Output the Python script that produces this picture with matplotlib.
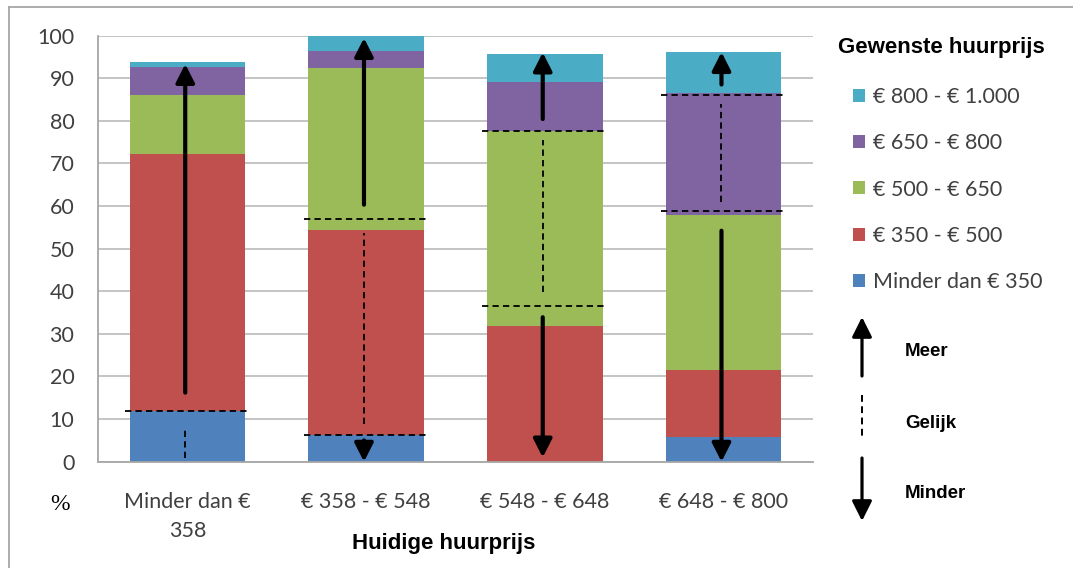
import numpy as np
import matplotlib
matplotlib.use("Agg")
import matplotlib.pyplot as plt
from matplotlib.lines import Line2D

# huidige huurprijs (x-as)
categories = ["Minder dan €\n358", "€ 358 - € 548", "€ 548 - € 648", "€ 648 - € 800"]

# gewenste huurprijs, percentages per klasse (onder naar boven)
series_labels = ["Minder dan € 350", "€ 350 - € 500", "€ 500 - € 650", "€ 650 - € 800", "€ 800 - € 1.000"]
minder_350 = [11.9, 6.2, 0.0, 5.9]
p350_500 = [60.3, 48.2, 31.9, 15.6]
p500_650 = [13.8, 37.9, 45.6, 36.4]
p650_800 = [6.6, 4.1, 11.5, 28.6]
p800_1000 = [1.2, 3.6, 6.7, 9.6]
series_colors = ["#4F81BD", "#C0504D", "#9BBB59", "#8064A2", "#4BACC6"]

# annotaties: gelijk-zone (stippellijnen) en pijlen meer / minder
gelijk_lo = [0.0, 6.2, 36.6, 58.8]
gelijk_hi = [11.9, 56.9, 77.7, 86.1]
dash_lo = [0.9, 8.8, 39.9, 60.9]
dash_hi = [8.1, 53.7, 75.5, 84.0]
meer_from = [16.2, 60.3, 80.4, 88.5]
meer_to = [93.3, 99.4, 96.0, 96.1]
minder_from = [None, 5.0, 33.9, 54.2]
minder_to = [None, 0.0, 1.0, 0.0]

W, H = 1073, 568
fig = plt.figure(figsize=(W / 100, H / 100), dpi=100)


def fx(x):
    return x / W


def fy(y):
    return 1 - y / H


ax = fig.add_axes([fx(98), fy(461.7), (813 - 98) / W, (461.7 - 35.5) / H])

x = np.arange(len(categories))
bar_w = 0.645
data = np.array([minder_350, p350_500, p500_650, p650_800, p800_1000])
bottom = np.zeros(len(categories))
handles = []
for vals, lab, col in zip(data, series_labels, series_colors):
    b = ax.bar(x, vals, bar_w, bottom=bottom, color=col, label=lab, zorder=2)
    handles.append(b)
    bottom += vals

ax.set_xlim(-0.5, 3.5)
ax.set_ylim(0, 100)
ax.set_yticks(range(0, 101, 10))
ax.yaxis.grid(True, color="#BFBFBF", lw=1.3, zorder=0)
ax.set_axisbelow(True)
for s in ["top", "right"]:
    ax.spines[s].set_visible(False)
for s in ["left", "bottom"]:
    ax.spines[s].set_color("#A6A6A6")
    ax.spines[s].set_linewidth(1.3)
ax.tick_params(axis="both", length=0, labelsize=15.5, labelcolor="#404040")
ax.tick_params(axis="y", pad=17)
ax.tick_params(axis="x", pad=22)
ax.set_xticks(x)
ax.set_xticklabels(categories, linespacing=1.55)
for t in ax.get_xticklabels() + ax.get_yticklabels():
    t.set_family("Lato")

# annotaties
half = 0.35
xoff = -0.012
dash_kw = dict(color="black", lw=1.3, linestyle=(0, (3.5, 2.3)), zorder=4)
arrow_kw = dict(arrowstyle="-|>,head_length=0.55,head_width=0.28", color="black",
                lw=3, mutation_scale=20, shrinkA=0, shrinkB=0)
for i in range(len(categories)):
    xc = x[i] + xoff
    ax.plot([x[i] - half, x[i] + half], [gelijk_hi[i]] * 2, **dash_kw)
    if gelijk_lo[i] > 0:
        ax.plot([x[i] - half, x[i] + half], [gelijk_lo[i]] * 2, **dash_kw)
    ax.plot([xc, xc], [dash_lo[i], dash_hi[i]], **dash_kw)
    ax.annotate("", xy=(xc, meer_to[i]), xytext=(xc, meer_from[i]),
                arrowprops=arrow_kw, zorder=5, annotation_clip=False)
    if minder_from[i] is not None:
        ax.annotate("", xy=(xc, minder_to[i]), xytext=(xc, minder_from[i]),
                    arrowprops=arrow_kw, zorder=5, annotation_clip=False)

# legenda
fig.text(fx(838), fy(48), "Gewenste huurprijs", family="Liberation Sans",
         fontweight="bold", fontsize=16, va="center")
ax.legend(handles=handles[::-1], loc="upper left", bbox_to_anchor=(fx(853), fy(87)),
          bbox_transform=fig.transFigure, frameon=False,
          prop={"family": "Lato", "size": 15.5}, labelcolor="#404040",
          handlelength=0.55, handleheight=0.55, handletextpad=0.4,
          labelspacing=1.22, borderpad=0, borderaxespad=0)

leg_arrow = dict(arrowstyle="-|>,head_length=0.6,head_width=0.3", color="black",
                 lw=2.3, mutation_scale=20, shrinkA=0, shrinkB=0)
ax.annotate("", xy=(fx(862), fy(317)), xytext=(fx(862), fy(376)),
            xycoords="figure fraction", arrowprops=leg_arrow)
ax.annotate("", xy=(fx(862), fy(521)), xytext=(fx(862), fy(458)),
            xycoords="figure fraction", arrowprops=leg_arrow)
fig.add_artist(Line2D([fx(862), fx(862)], [fy(395), fy(440)], color="black",
                      lw=1.4, linestyle=(0, (3.5, 2.3))))
for lab, yy in [("Meer", 352), ("Gelijk", 423), ("Minder", 493)]:
    fig.text(fx(905), fy(yy), lab, family="Liberation Sans", fontweight="bold",
             fontsize=13.5, va="center")

# as-titels
fig.text(fx(444), fy(543), "Huidige huurprijs", family="Liberation Sans",
         fontweight="bold", fontsize=16, ha="center", va="center")
fig.text(fx(60), fy(505), "%", family="Liberation Serif", fontsize=17,
         ha="center", va="center")

# kader
fig.add_artist(Line2D([fx(9), 1], [fy(7), fy(7)], color="#A6A6A6", lw=1.3))
fig.add_artist(Line2D([fx(9), fx(9)], [fy(7), 0], color="#A6A6A6", lw=1.3))

fig.savefig("out.png", dpi=100)
